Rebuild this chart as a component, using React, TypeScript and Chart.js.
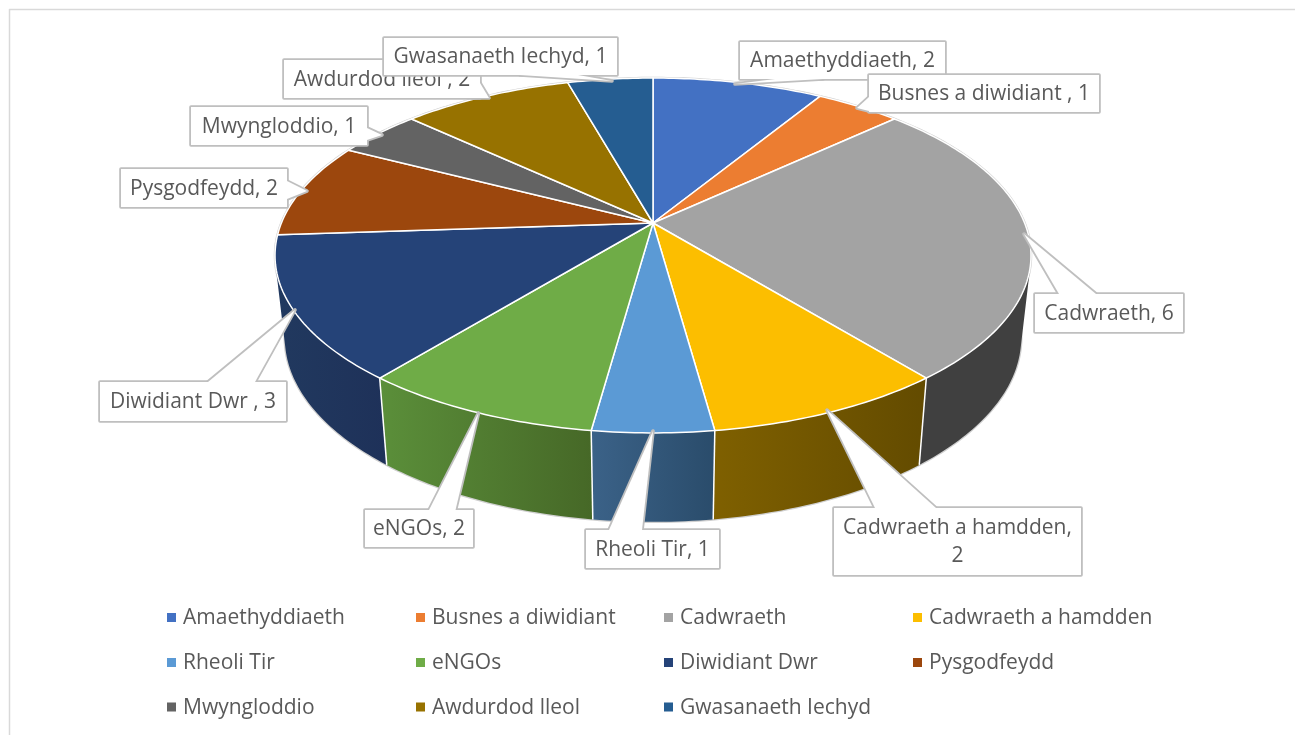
import React, { useEffect, useRef } from "react";
import { Chart, registerables } from "chart.js";

Chart.register(...registerables);

const categories = [
  "Amaethyddiaeth",
  "Busnes a diwidiant ",
  "Cadwraeth",
  "Cadwraeth a hamdden",
  "Rheoli Tir",
  "eNGOs",
  "Diwidiant Dwr ",
  "Pysgodfeydd",
  "Mwyngloddio",
  "Awdurdod lleol ",
  "Gwasanaeth Iechyd",
];
const counts = [2, 1, 6, 2, 1, 2, 3, 2, 1, 2, 1];
const topColours = ["#4371c3", "#ec7d31", "#a3a3a3", "#fcbe00", "#5b9ad5", "#6fac47", "#254378", "#9c470d", "#636363", "#977200", "#255d91"];
const sideLeft = ["#2f5597", "#a85820", "#404040", "#7f6000", "#3b6288", "#5b8f3a", "#21395f", "#1f3760", "#454545", "#6b5000", "#1a4268"];
const sideRight = ["#2a4c86", "#95501c", "#404040", "#634b00", "#2a4c6b", "#466827", "#1e3159", "#1f3760", "#454545", "#6b5000", "#1a4268"];

const FONT = '"Open Sans", sans-serif';
const TEXT = "#595959";

// perspective of the pie's rim: top disc and bottom disc
const rims = [
  { cx: 653, cy: 223, a: 371.6, b: 171.5, k: 0.183 },
  { cx: 653, cy: 304, a: 362, b: 178, k: 0.183 },
];
const project = (theta: number, level: number): [number, number] => {
  const r = rims[level];
  const x = Math.cos(theta);
  const y = Math.sin(theta);
  const w = 1 - r.k * y;
  return [r.cx + (r.a * x) / w, r.cy + (r.b * y) / w];
};
const sample = (start: number, end: number, level: number) => {
  const n = Math.max(4, Math.ceil((end - start) * 60));
  const pts: [number, number][] = [];
  for (let i = 0; i <= n; i++) pts.push(project(start + ((end - start) * i) / n, level));
  return pts;
};

// callout boxes: box rect, then leader wedge (base, tip, base)
const calloutBoxes = [
  { r: [740, 42, 205, 37], w: [[775, 79], [735, 84], [823, 79]] },
  { r: [869, 75, 230, 37], w: [[869, 97], [857, 108], [869, 111]] },
  { r: [1035, 294, 148, 38], w: [[1059, 294], [1024, 234], [1096, 294]] },
  { r: [834, 508, 247, 67], w: [[875, 508], [827, 410], [936, 508]] },
  { r: [586, 530, 133, 38], w: [[609, 530], [653, 431], [642, 530]] },
  { r: [365, 510, 108, 37], w: [[429, 510], [478.5, 413], [455.5, 510]] },
  { r: [100, 382, 186, 39], w: [[208, 382], [295, 310], [255, 382]] },
  { r: [121, 169, 166, 38], w: [[287, 181], [307, 191], [287, 199]] },
  { r: [191, 107, 176, 38], w: [[367, 128], [382, 135], [367, 140]] },
  { r: [284, 60, 196, 38], w: [[480, 83], [489, 98], [472, 98]] },
  { r: [384, 38, 233, 37], w: [[520, 75], [612, 81], [578, 75]] },
];

const legendColumns = [167, 416, 664, 913];
const legendRows = [618.5, 663.5, 708];

const tracePts = (ctx: any, pts: [number, number][]) => {
  ctx.beginPath();
  pts.forEach((p, n) => (n ? ctx.lineTo(p[0], p[1]) : ctx.moveTo(p[0], p[1])));
};

const pie3d = {
  id: "pie3d",
  beforeDatasetsDraw(chart: any) {
    const ctx = chart.ctx;
    const arcs = chart.getDatasetMeta(0).data;
    ctx.save();
    ctx.lineJoin = "round";
    // chart frame
    ctx.strokeStyle = "#d9d9d9";
    ctx.lineWidth = 1.5;
    ctx.beginPath();
    ctx.moveTo(9.5, 735);
    ctx.lineTo(9.5, 9.5);
    ctx.lineTo(1295, 9.5);
    ctx.stroke();

    // faint outline of the solid
    ctx.strokeStyle = "#cfcfcf";
    ctx.lineWidth = 2.5;
    for (const level of [0, 1]) {
      tracePts(ctx, sample(-Math.PI, Math.PI, level));
      ctx.closePath();
      ctx.stroke();
    }

    // walls, from back to front; each wall is one path so no seams appear
    const order = arcs
      .map((a: any, i: number) => ({ a, i, mid: Math.sin((a.startAngle + a.endAngle) / 2) }))
      .sort((p: any, q: any) => p.mid - q.mid);
    for (const { a, i } of order) {
      const top = sample(a.startAngle, a.endAngle, 0);
      const bottom = sample(a.startAngle, a.endAngle, 1);
      const xs = [...top, ...bottom].map((p) => p[0]);
      const g = ctx.createLinearGradient(Math.min(...xs), 0, Math.max(...xs), 0);
      g.addColorStop(0, sideLeft[i]);
      g.addColorStop(1, sideRight[i]);
      ctx.fillStyle = g;
      ctx.beginPath();
      for (let n = 0; n < top.length - 1; n++) {
        const quad = [top[n], top[n + 1], bottom[n + 1], bottom[n]];
        let area = 0;
        quad.forEach((p, m) => {
          const q = quad[(m + 1) % 4];
          area += p[0] * q[1] - q[0] * p[1];
        });
        const path = area < 0 ? [...quad].reverse() : quad;
        path.forEach((p, m) => (m ? ctx.lineTo(p[0], p[1]) : ctx.moveTo(p[0], p[1])));
        ctx.closePath();
      }
      ctx.fill();
    }
    // white seams only between the walls facing the viewer
    ctx.strokeStyle = "#ffffff";
    ctx.lineWidth = 1.5;
    for (const a of arcs) {
      if (Math.sin(a.startAngle) > 0.15) {
        tracePts(ctx, [project(a.startAngle, 0), project(a.startAngle, 1)]);
        ctx.stroke();
      }
    }

    // top faces
    arcs.forEach((a: any, i: number) => {
      const rim = sample(a.startAngle, a.endAngle, 0);
      tracePts(ctx, [[rims[0].cx, rims[0].cy], ...rim]);
      ctx.closePath();
      ctx.fillStyle = chart.data.datasets[0].backgroundColor[i];
      ctx.strokeStyle = "#ffffff";
      ctx.lineWidth = 1.5;
      ctx.fill();
      ctx.stroke();
    });
    ctx.restore();
    return false;
  },
  afterDraw(chart: any) {
    const ctx = chart.ctx;
    const labels: string[] = chart.data.labels;
    const values: number[] = chart.data.datasets[0].data;
    const colours: string[] = chart.data.datasets[0].backgroundColor;
    ctx.save();
    ctx.font = `21px ${FONT}`;
    ctx.textBaseline = "middle";

    // callouts
    calloutBoxes.forEach((box, i) => {
      const [x, y, w, h] = box.r;
      const wedge = box.w as [number, number][];
      ctx.strokeStyle = "#bfbfbf";
      ctx.lineWidth = 3.6;
      ctx.lineJoin = "round";
      ctx.beginPath();
      ctx.rect(x, y, w, h);
      ctx.stroke();
      tracePts(ctx, wedge);
      ctx.closePath();
      ctx.stroke();
      ctx.fillStyle = "#ffffff";
      ctx.beginPath();
      ctx.rect(x, y, w, h);
      ctx.fill();
      tracePts(ctx, wedge);
      ctx.closePath();
      ctx.fill();

      const text = `${labels[i]}, ${values[i]}`;
      const lines = ctx.measureText(text).width > w - 12 ? [`${labels[i]},`, `${values[i]}`] : [text];
      ctx.fillStyle = TEXT;
      ctx.textAlign = "center";
      lines.forEach((l, n) => {
        ctx.fillText(l, x + w / 2, y + h / 2 + 1 + (n - (lines.length - 1) / 2) * 28);
      });
    });

    // legend
    ctx.textAlign = "left";
    labels.forEach((label, i) => {
      const col = legendColumns[i % 4];
      const row = legendRows[Math.floor(i / 4)];
      ctx.fillStyle = colours[i];
      ctx.fillRect(col, row - 5.5, 9, 9);
      ctx.fillStyle = TEXT;
      ctx.fillText(label.trim(), col + 16, row);
    });
    ctx.restore();
  },
};

export default function App() {
  const ref = useRef<HTMLCanvasElement | null>(null);
  useEffect(() => {
    if (!ref.current) return;
    const chart = new Chart(ref.current, {
      type: "pie",
      data: {
        labels: categories,
        datasets: [{ data: counts, backgroundColor: topColours }],
      },
      options: {
        responsive: false,
        animation: false,
        events: [],
        plugins: { legend: { display: false }, tooltip: { enabled: false }, title: { display: false } },
      },
      plugins: [pie3d],
    } as any);
    return () => chart.destroy();
  }, []);
  return (
    <canvas
      ref={ref}
      width={1295}
      height={735}
      style={{ position: "fixed", left: 0, top: 0, width: 1295, height: 735, background: "#fff" }}
    />
  );
}
